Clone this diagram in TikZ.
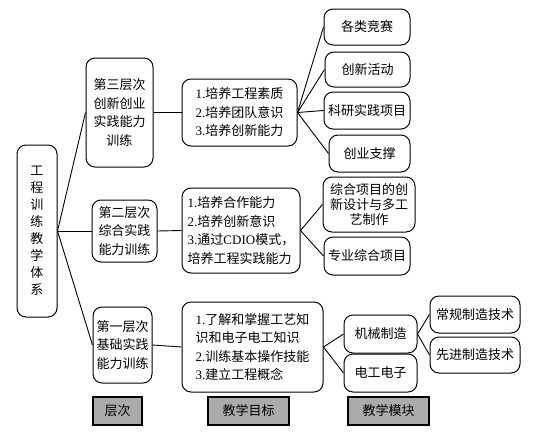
\documentclass[tikz,border=0pt]{standalone}
\usepackage{fontspec}
\setmainfont{Liberation Serif}
\newfontfamily\cjk{Noto Sans CJK SC}
\newcommand{\lat}[1]{{\rmfamily #1}}
\tikzset{
  box/.style={draw, rounded corners=9pt, line width=1pt, align=center,
              inner sep=1pt, font=\cjk\fontsize{13}{18.5}\selectfont},
  goal/.style={box, align=left},
  tag/.style={draw, fill=black!33, line width=1.2pt, minimum height=28pt,
              font=\cjk\fontsize{13}{16}\selectfont},
  link/.style={line width=0.9pt}
}
\begin{document}
\begin{tikzpicture}[x=1pt, y=-1pt]
    \useasboundingbox (0,0) rectangle (550,440);

    % Root
    \node[box, minimum width=40pt, minimum height=172pt,
          font=\cjk\fontsize{13}{17}\selectfont] (root) at (37,231)
          {工\\程\\训\\练\\教\\学\\体\\系};

    % Levels
    \node[box, minimum width=67pt, minimum height=109pt] (lv3) at (119.5,112.5)
          {第三层次\\创新创业\\实践能力\\训练};
    \node[box, minimum width=65pt, minimum height=62pt] (lv2) at (124.5,231)
          {第二层次\\综合实践\\能力训练};
    \node[box, minimum width=59pt, minimum height=76pt] (lv1) at (122.5,345)
          {第一层次\\基础实践\\能力训练};

    % Goals
    \node[goal, minimum width=115pt, minimum height=67pt] (g3) at (239.5,112.5)
          {\lat{1.}培养工程素质\\\lat{2.}培养团队意识\\\lat{3.}培养创新能力};
    \node[goal, minimum width=118pt, minimum height=85pt] (g2) at (241,230.5)
          {\lat{1.}培养合作能力\\\lat{2.}培养创新意识\\\lat{3.}通过\lat{CDIO}模式，\\培养工程实践能力};
    \node[goal, minimum width=141pt, minimum height=90pt] (g1) at (252.5,347)
          {\lat{1.}了解和掌握工艺知\\识和电子电工知识\\\lat{2.}训练基本操作技能\\\lat{3.}建立工程概念};

    % Modules
    \node[box, minimum width=86pt, minimum height=36pt] (m31) at (367,27) {各类竞赛};
    \node[box, minimum width=85pt, minimum height=35pt] (m32) at (367.5,69.5) {创新活动};
    \node[box, minimum width=86pt, minimum height=37pt] (m33) at (367,110.5) {科研实践项目};
    \node[box, minimum width=81pt, minimum height=37pt] (m34) at (369.5,153.5) {创业支撑};
    \node[box, minimum width=92pt, minimum height=55pt,
          font=\cjk\fontsize{13}{15}\selectfont] (m21) at (369,204.5)
          {综合项目的创\\新设计与多工\\艺制作};
    \node[box, minimum width=86pt, minimum height=38pt] (m22) at (367,256) {专业综合项目};
    \node[box, minimum width=73pt, minimum height=38pt] (m11) at (380.5,334) {机械制造};
    \node[box, minimum width=73pt, minimum height=38pt] (m12) at (380.5,373) {电工电子};
    \node[box, minimum width=90pt, minimum height=37pt] (t1) at (475,314.5) {常规制造技术};
    \node[box, minimum width=90pt, minimum height=36pt] (t2) at (475,355) {先进制造技术};

    % Column tags
    \node[tag, minimum width=49pt] (tag1) at (117.5,411) {层次};
    \node[tag, minimum width=81pt] (tag2) at (248.5,411) {教学目标};
    \node[tag, minimum width=81pt] (tag3) at (388.5,411) {教学模块};

    % Links
    \foreach \l in {lv3,lv2,lv1} \draw[link] (root.east) -- (\l.west);
    \draw[link] (lv3.east) -- (g3.west);
    \draw[link] (lv2.east) -- (g2.west);
    \draw[link] (lv1.east) -- (g1.west);
    \foreach \m in {m31,m32,m33,m34} \draw[link] (g3.east) -- (\m.west);
    \foreach \m in {m21,m22} \draw[link] (g2.east) -- (\m.west);
    \foreach \m in {m11,m12} \draw[link] (g1.east) -- (\m.west);
    \foreach \t in {t1,t2} \draw[link] (m11.east) -- (\t.west);
\end{tikzpicture}
\end{document}
